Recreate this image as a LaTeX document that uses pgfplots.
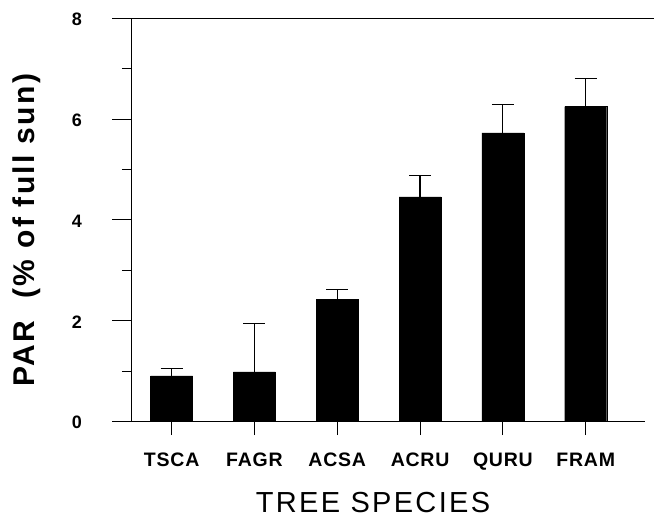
\documentclass[border=0pt]{standalone}
\usepackage{fontspec}
\setmainfont{Liberation Sans}
\newfontfamily\tickfont[LetterSpace=4]{Liberation Sans}
\newfontfamily\labfont[LetterSpace=8]{Liberation Sans}
\usepackage{pgfplots}
\usepackage{pgfplotstable}
\pgfplotsset{compat=1.18}
\pgfplotstableread{
x y e
0 0.91 0.14
1 0.99 0.95
2 2.42 0.20
3 4.46 0.42
4 5.73 0.56
5 6.25 0.55
}\datatable
\begin{document}
\begin{tikzpicture}
\begin{axis}[
  scale only axis, width=513pt, height=403.4pt,
  xmin=-0.479, xmax=5.716, ymin=0, ymax=8,
  axis x line=box, axis y line=left,
  axis line style={-, line width=1pt},
  tick align=outside, xtick pos=left, ytick pos=left,
  ytick={0,2,4,6,8}, minor ytick={1,3,5,7},
  xtick=data, xticklabels={TSCA,FAGR,ACSA,ACRU,QURU,FRAM},
  major tick length=19.5pt, minor tick length=10pt,
  xtick style={/pgfplots/major tick length=13.5pt},
  tick style={line width=1pt, black},
  /pgf/number format/assume math mode=true,
  yticklabel style={font=\tickfont\bfseries\fontsize{18}{20}\selectfont, anchor=east, xshift=-27pt, yshift=-1pt},
  xticklabel style={font=\tickfont\bfseries\fontsize{19.5}{22}\selectfont, anchor=base, yshift=-25.5pt},
  every axis x label/.style={at={(axis description cs:0.4698,0)}, anchor=base, yshift=-91pt, text depth=0pt, font=\labfont\fontsize{29}{34}\selectfont},
  every axis y label/.style={at={(axis description cs:-0.1897,0.4752)}, rotate=90, anchor=base, font=\labfont\bfseries\fontsize{30}{36}\selectfont},
  xlabel={TREE SPECIES},
  ylabel={PAR\hspace{22pt}(\% of full sun)},
]
\addplot[ybar, bar width=42pt, fill=black, draw=black,
  error bars/.cd, y dir=plus, y explicit,
  error bar style={line width=1.2pt, black},
  error mark options={rotate=90, mark size=11pt, line width=1.2pt, black}]
  table[x=x, y=y, y error=e]{\datatable};
\end{axis}
\draw[line width=1pt] (513pt,403.4pt) -- (522pt,403.4pt);
\pgfresetboundingbox
\path (-132pt,-96.3pt) rectangle (522pt,421.7pt);
\end{tikzpicture}
\end{document}
